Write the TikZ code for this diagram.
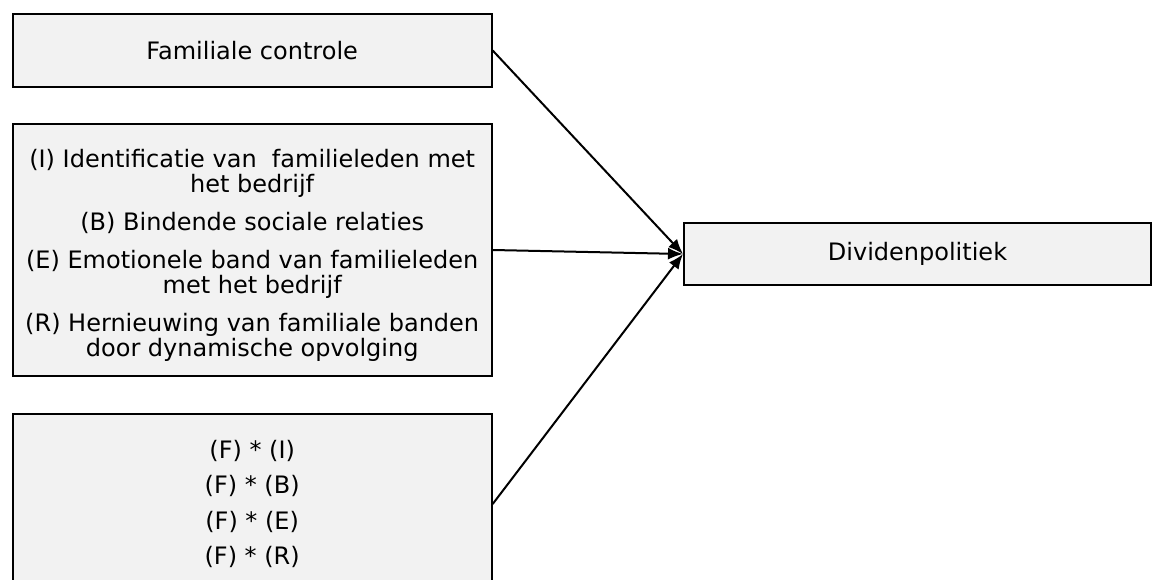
\documentclass[tikz,border=0pt]{standalone}
\usepackage{fontspec}
\setmainfont{DejaVu Sans}
\usetikzlibrary{arrows.meta}
\definecolor{boxfill}{RGB}{242,242,242}
\begin{document}
\begin{tikzpicture}[x=1pt,y=-1pt,
  box/.style={draw=black, line width=2pt, fill=boxfill, inner sep=0pt, align=center,
              font=\fontsize{24}{25}\selectfont},
  txt/.style={inner sep=0pt, align=center, font=\fontsize{24}{25}\selectfont},
  conn/.style={line width=2pt, -{Latex[length=15pt,width=12pt]}}]
\useasboundingbox (0,0) rectangle (1152,580);
\node[box, minimum width=479pt, minimum height=73pt] (fc) at (252.2,50.5) {Familiale controle};
\node[box, minimum width=479pt, minimum height=252pt] (dim) at (252.2,250) {};
\node[txt] (dimtext) at (252.2,255.5)
  {(I) Identificatie van\ \ familieleden met\\het bedrijf\\[13pt]
   (B) Bindende sociale relaties\\[13pt]
   (E) Emotionele band van familieleden\\met het bedrijf\\[13pt]
   (R) Hernieuwing van familiale banden\\door dynamische opvolging};
\node[box, minimum width=479pt, minimum height=180pt,
      font=\fontsize{24}{35.5}\selectfont] (inter) at (252.2,504)
  {(F) * (I)\\(F) * (B)\\(F) * (E)\\(F) * (R)};
\node[box, minimum width=467pt, minimum height=62pt] (div) at (917.5,254) {Dividenpolitiek};
\draw[conn] (fc.east) -- (div.west);
\draw[conn] (dim.east) -- (div.west);
\draw[conn] (inter.east) -- (div.west);
\end{tikzpicture}
\end{document}
